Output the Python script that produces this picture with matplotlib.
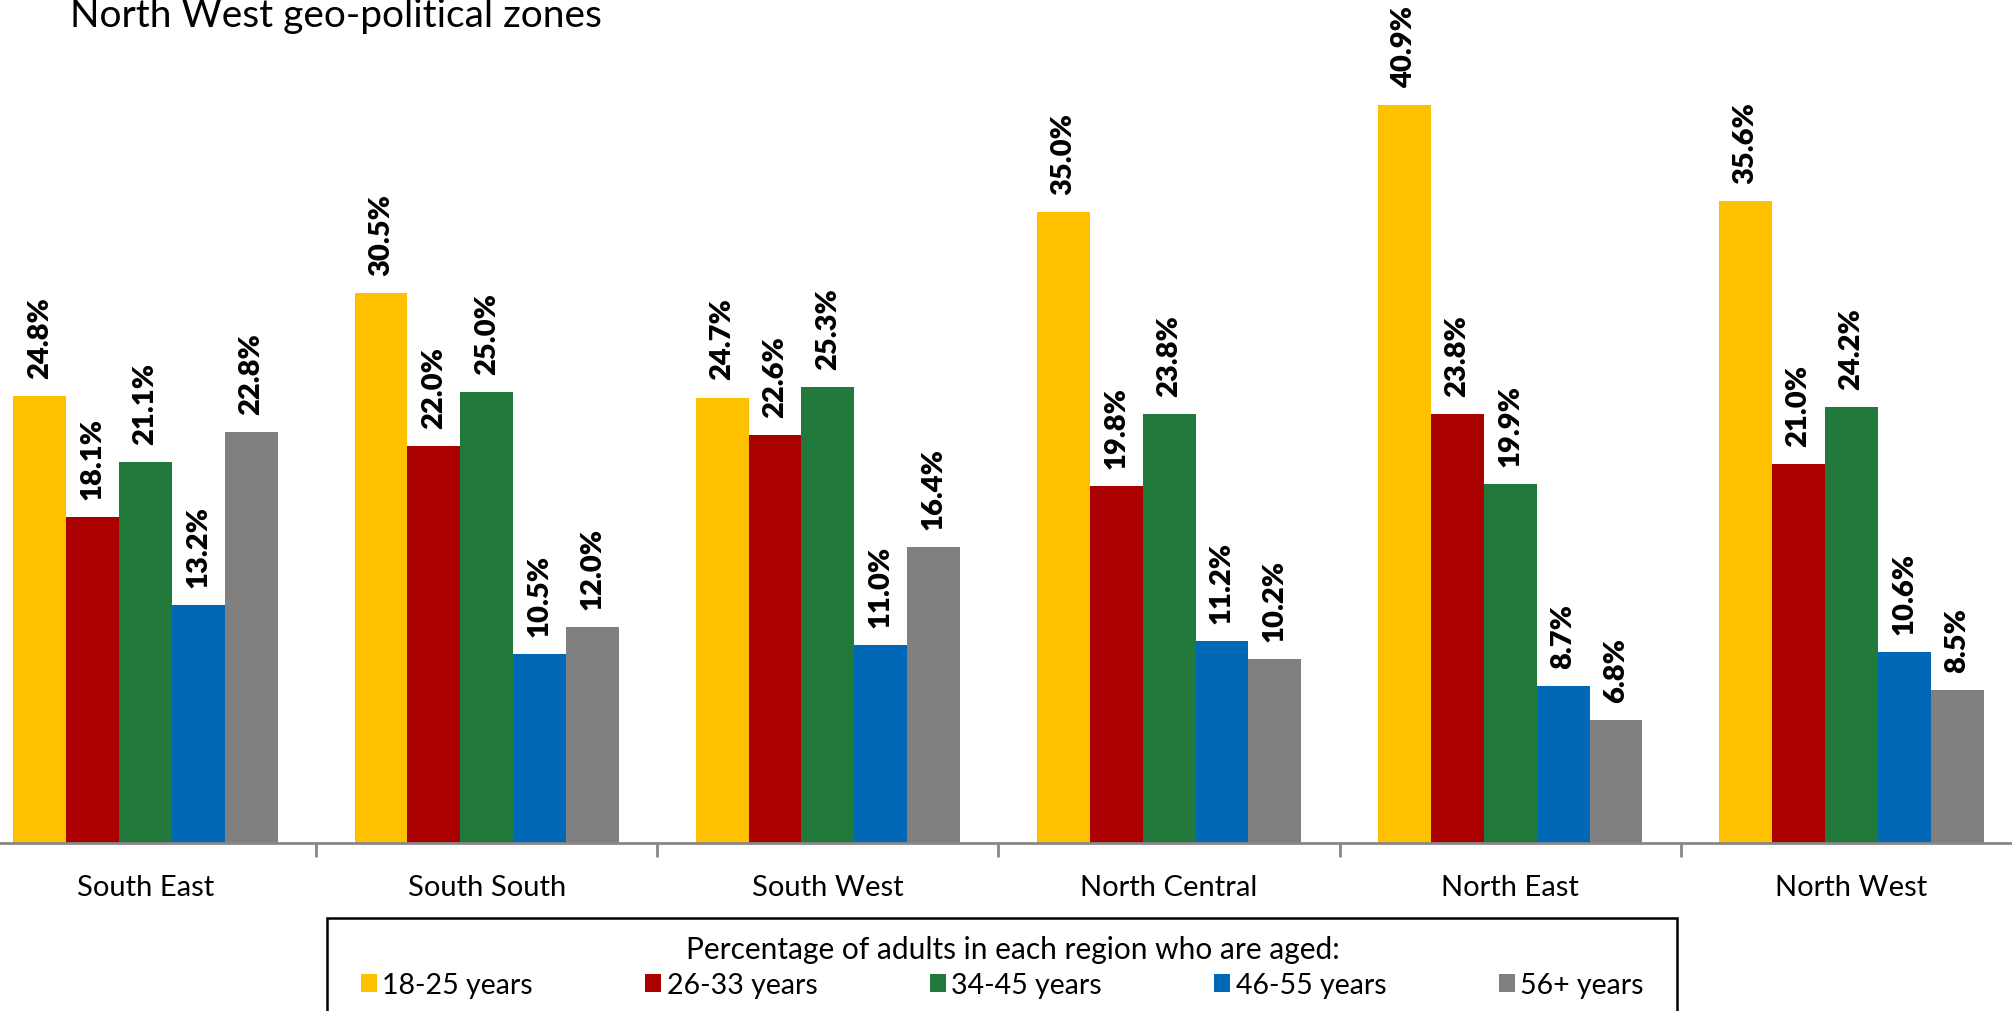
import matplotlib.pyplot as plt
import numpy as np
from matplotlib.patches import Rectangle

regions = ["South East", "South South", "South West",
           "North Central", "North East", "North West"]
age_groups = ["18-25 years", "26-33 years", "34-45 years",
              "46-55 years", "56+ years"]
aged_18_25 = [24.8, 30.5, 24.7, 35.0, 40.9, 35.6]
aged_26_33 = [18.1, 22.0, 22.6, 19.8, 23.8, 21.0]
aged_34_45 = [21.1, 25.0, 25.3, 23.8, 19.9, 24.2]
aged_46_55 = [13.2, 10.5, 11.0, 11.2, 8.7, 10.6]
aged_56_plus = [22.8, 12.0, 16.4, 10.2, 6.8, 8.5]

series = [aged_18_25, aged_26_33, aged_34_45, aged_46_55, aged_56_plus]
colors = ["#FFC000", "#AA0000", "#217A3B", "#0068B7", "#808080"]

plt.rcParams["font.family"] = ["Lato", "DejaVu Sans"]

W, H = 2012, 1012
fig = plt.figure(figsize=(W / 100, H / 100), dpi=100)

# plot area runs slightly past both figure edges
ax = fig.add_axes([-25 / W, (H - 844) / H, 2047 / W, 844 / H])

x = np.arange(len(regions))
bw = 0.155
for i, (vals, col, name) in enumerate(zip(series, colors, age_groups)):
    pos = x + (i - 2) * bw
    bars = ax.bar(pos, vals, width=bw, color=col, label=name, zorder=2)
    for b, v in zip(bars, vals):
        ax.annotate(f"{v:.1f}%", (b.get_x() + b.get_width() / 2, v),
                    xytext=(0, 13), textcoords="offset points",
                    rotation=90, ha="center", va="bottom",
                    fontsize=21, fontweight="heavy", color="black")

ax.set_xlim(-0.5, len(regions) - 0.5)
ax.set_ylim(0, 46.8)
ax.set_yticks([])
for s in ["top", "right", "left"]:
    ax.spines[s].set_visible(False)
ax.spines["bottom"].set_color("#878787")
ax.spines["bottom"].set_linewidth(2)

ax.set_xticks(x)
ax.set_xticklabels(regions, fontsize=21)
ax.set_xticks(x[:-1] + 0.5, minor=True)
ax.tick_params(axis="x", which="major", length=0, pad=22)
ax.tick_params(axis="x", which="minor", length=10, width=2, color="#878787")

fig.text(70 / W, 1 - 27 / H, "North West geo-political zones",
         fontsize=28, va="baseline", ha="left")

# legend box, open at the bottom of the figure
fig.patches.append(Rectangle((327 / W, -0.05), (1677 - 327) / W, 0.05 + (H - 919) / H,
                             transform=fig.transFigure, fill=False,
                             edgecolor="black", linewidth=1.8))
fig.text(1013 / W, 1 - 950 / H, "Percentage of adults in each region who are aged:",
         fontsize=21.5, ha="center", va="center")
handles, labels = ax.get_legend_handles_labels()
fig.legend(handles, labels, ncol=5, loc="center left",
           bbox_to_anchor=(361 / W, 1 - 986 / H), frameon=False,
           fontsize=20.5, handlelength=0.55, handleheight=0.6,
           handletextpad=0.2, columnspacing=3.95, borderpad=0, borderaxespad=0)

fig.savefig("out.png", dpi=100)
